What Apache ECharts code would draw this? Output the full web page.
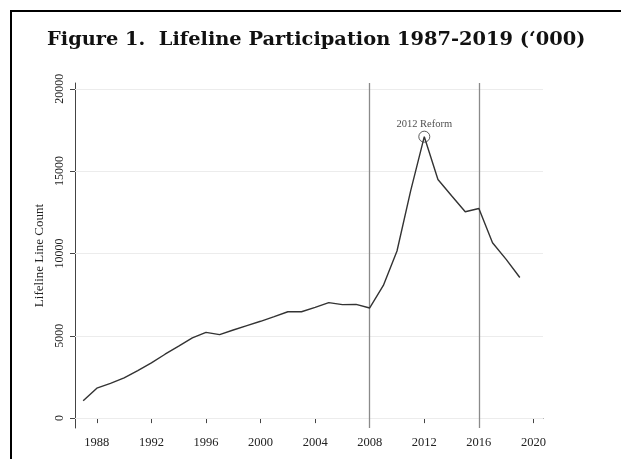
<!DOCTYPE html>
<html>
<head>
<meta charset="utf-8">
<script src="https://cdn.jsdelivr.net/npm/echarts@6/dist/echarts.min.js"></script>
<style>
  html, body { margin: 0; padding: 0; background: #fff; }
  #chart { width: 621px; height: 459px; }
</style>
</head>
<body>
<div id="chart"></div>
<script>
// Lifeline participation, thousands of lines, 1987-2019
const years = [1987, 1988, 1989, 1990, 1991, 1992, 1993, 1994, 1995, 1996, 1997,
  1998, 1999, 2000, 2001, 2002, 2003, 2004, 2005, 2006, 2007, 2008, 2009, 2010,
  2011, 2012, 2013, 2014, 2015, 2016, 2017, 2018, 2019];
const lineCounts = [1050, 1820, 2110, 2440, 2890, 3350, 3880, 4370, 4870, 5210, 5070,
  5350, 5620, 5880, 6160, 6460, 6460, 6730, 7010, 6890, 6910, 6690, 8060, 10150,
  13800, 17090, 14490, 13500, 12530, 12730, 10650, 9640, 8540];

const xTicks = [1988, 1992, 1996, 2000, 2004, 2008, 2012, 2016, 2020];
const yTicks = [0, 5000, 10000, 15000, 20000];
const referenceYears = [2008, 2016];
const reformYear = 2012;
const reformLabel = '2012 Reform';

const serif = '"Liberation Serif", "DejaVu Serif", serif';
const plain = v => String(v);

const linePoints = years.map((y, i) => [y, lineCounts[i]]);
const reformPoint = [[reformYear, lineCounts[years.indexOf(reformYear)]]];

const chart = echarts.init(document.getElementById('chart'), null, { renderer: 'canvas' });
chart.setOption({
  animation: false,
  backgroundColor: '#fff',
  title: {
    text: 'Figure 1.  Lifeline Participation 1987-2019 (\u2018000)',
    left: 42,
    top: 25,
    textStyle: { fontFamily: '"DejaVu Serif", serif', fontWeight: 'bold', fontSize: 19.4, color: '#111' }
  },
  graphic: [{
    type: 'rect', silent: true,
    shape: { x: 11, y: 11, width: 640, height: 500 },
    style: { fill: 'none', stroke: '#000', lineWidth: 2 }
  }],
  grid: { left: 75, top: 83, right: 78, bottom: 31, containLabel: false },
  xAxis: {
    type: 'value', min: 1986.4, max: 2020.7,
    axisLine: { lineStyle: { color: '#444', width: 1 } },
    axisTick: { show: true, length: 5, customValues: xTicks, lineStyle: { color: '#444' } },
    axisLabel: { customValues: xTicks, formatter: plain, fontFamily: serif, fontSize: 12.5, color: '#222', margin: 8 },
    splitLine: { show: false }
  },
  yAxis: {
    type: 'value', min: -600, max: 20350,
    name: 'Lifeline Line Count', nameLocation: 'middle', nameGap: 28,
    nameTextStyle: { fontFamily: serif, fontSize: 13, color: '#222' },
    axisLine: { show: true, lineStyle: { color: '#444', width: 1 } },
    axisTick: { show: true, length: 5, customValues: yTicks, lineStyle: { color: '#444' } },
    axisLabel: { customValues: yTicks, formatter: plain, rotate: 90, fontFamily: serif, fontSize: 12, color: '#222', margin: 9 },
    splitLine: { show: false }
  },
  series: [{
    // background rules: light gridlines and the two reference years
    type: 'line',
    data: [],
    z: 1,
    silent: true,
    markLine: {
      z: 1,
      silent: true,
      symbol: ['none', 'none'],
      label: { show: false },
      data: [
        ...yTicks.map(v => ({ yAxis: v, lineStyle: { color: '#ececec', width: 1, type: 'solid' } })),
        ...referenceYears.map(v => ({ xAxis: v, lineStyle: { color: '#8a8a8a', width: 1.3, type: 'solid' } }))
      ]
    }
  }, {
    type: 'line',
    data: linePoints,
    showSymbol: false,
    lineStyle: { color: '#333', width: 1.4 },
    itemStyle: { color: '#333' },
    z: 3
  }, {
    type: 'scatter',
    data: reformPoint,
    symbol: 'circle',
    symbolSize: 11,
    z: 4,
    itemStyle: { color: 'rgba(0,0,0,0)', borderColor: '#333', borderWidth: 1 },
    label: {
      show: true, position: 'top', distance: 1,
      formatter: reformLabel, fontFamily: serif, fontSize: 10.5, color: '#222'
    }
  }]
});
</script>
</body>
</html>
